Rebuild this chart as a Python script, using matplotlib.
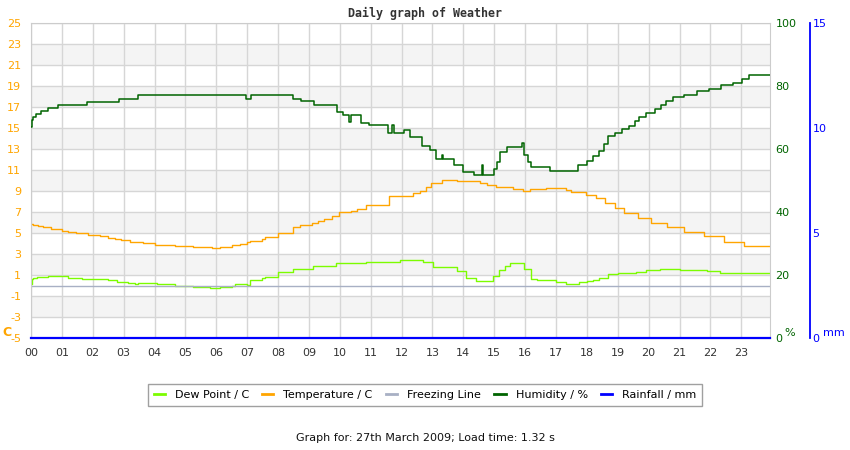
import matplotlib.pyplot as plt
import numpy as np

plt.rcParams['axes.unicode_minus'] = False

# hodiny a hodnoty (schodovite rady)
hum_hours = [0.00, 0.03, 0.06, 0.16, 0.32, 0.55, 0.88, 1.82, 2.86, 3.47, 6.95, 7.11,
             8.50, 8.73, 9.16, 9.90, 10.10, 10.30, 10.36, 10.70, 10.95, 11.55, 11.70, 11.75,
             12.07, 12.28, 12.66, 12.93, 13.10, 13.30, 13.35, 13.70, 14.00, 14.35, 14.60,
             14.65, 15.00, 15.10, 15.20, 15.40, 15.90, 15.95, 16.10, 16.20, 16.80, 17.70,
             18.00, 18.20, 18.40, 18.55, 18.70, 18.90, 19.15, 19.35, 19.55, 19.70, 19.90,
             20.20, 20.40, 20.55, 20.80, 21.15, 21.55, 21.95, 22.35, 22.73, 23.03, 23.24,
             23.93]
hum_pct = [67.0, 69.2, 70.1, 71.0, 72.0, 72.9, 73.9, 74.8, 76.0, 77.0, 76.0, 77.0,
           76.0, 75.1, 74.0, 71.9, 70.8, 68.5, 70.8, 68.2, 67.6, 65.0, 67.5, 65.0,
           66.0, 63.9, 61.0, 59.7, 56.7, 58.0, 56.7, 54.9, 52.8, 51.7, 55.0,
           51.7, 53.5, 56.0, 59.1, 60.7, 62.0, 58.0, 56.0, 54.4, 53.1, 54.9,
           56.2, 57.8, 59.4, 61.5, 64.2, 65.2, 66.3, 67.3, 68.9, 70.3, 71.4,
           72.6, 73.9, 75.2, 76.4, 77.3, 78.3, 79.2, 80.2, 81.1, 82.2, 83.4,
           83.4]

temp_hours = [0.00, 0.06, 0.22, 0.38, 0.65, 0.99, 1.20, 1.47, 1.85, 2.23, 2.50, 2.72,
              2.93, 3.20, 3.63, 4.01, 4.66, 5.25, 5.85, 6.12, 6.50, 6.76, 6.98, 7.10,
              7.47, 7.58, 8.00, 8.48, 8.71, 9.10, 9.30, 9.49, 9.76, 9.97, 10.35, 10.57,
              10.86, 11.00, 11.60, 12.37, 12.59, 12.80, 12.96, 13.30, 13.78, 14.54, 14.75,
              15.07, 15.61, 15.93, 16.15, 16.68, 17.33, 17.50, 17.98, 18.30, 18.60, 18.90,
              19.20, 19.65, 20.08, 20.60, 21.15, 21.80, 22.45, 23.10, 23.93]
temp_c = [5.9, 5.75, 5.7, 5.55, 5.4, 5.2, 5.1, 5.0, 4.8, 4.67, 4.5, 4.4,
          4.3, 4.15, 4.05, 3.9, 3.8, 3.7, 3.6, 3.7, 3.9, 4.0, 4.1, 4.2,
          4.4, 4.6, 5.0, 5.55, 5.75, 6.0, 6.17, 6.33, 6.6, 6.97, 7.1, 7.28,
          7.66, 7.7, 8.5, 8.8, 9.03, 9.35, 9.76, 10.08, 10.0, 9.8, 9.57,
          9.35, 9.2, 8.97, 9.2, 9.3, 9.1, 8.93, 8.6, 8.3, 7.85, 7.35,
          6.9, 6.45, 6.0, 5.56, 5.1, 4.68, 4.16, 3.78, 3.78]

dew_hours = [0.00, 0.03, 0.08, 0.18, 0.56, 0.88, 1.20, 1.64, 2.23, 2.50, 2.77, 3.15,
             3.37, 3.48, 4.07, 4.66, 5.25, 5.80, 6.12, 6.50, 6.60, 6.98, 7.09, 7.47,
             7.58, 8.00, 8.48, 9.14, 9.89, 10.86, 11.94, 12.70, 13.02, 13.78, 14.10,
             14.42, 14.96, 15.17, 15.35, 15.50, 15.95, 16.20, 16.40, 17.00, 17.33, 17.76,
             18.00, 18.20, 18.40, 18.70, 19.00, 19.60, 19.90, 20.36, 21.00, 21.90, 22.30,
             23.93]
dew_c = [0.1, 0.6, 0.76, 0.85, 0.95, 0.9, 0.76, 0.66, 0.6, 0.5, 0.38, 0.28,
         0.15, 0.28, 0.15, 0.0, -0.1, -0.2, -0.1, 0.0, 0.1, 0.05, 0.5, 0.7,
         0.85, 1.25, 1.6, 1.87, 2.13, 2.2, 2.45, 2.2, 1.8, 1.4, 0.76,
         0.44, 0.9, 1.5, 1.87, 2.13, 1.56, 0.6, 0.5, 0.3, 0.15, 0.3,
         0.4, 0.5, 0.76, 1.05, 1.15, 1.3, 1.5, 1.6, 1.5, 1.4, 1.15,
         1.15]

freeze_hours = [0.0, 23.93]
freeze_c = [0.0, 0.0]

rain_hours = [0.0, 23.93]
rain_mm = [0.0, 0.0]

hour_labels = ['%02d' % h for h in range(24)]

fig = plt.figure(figsize=(8.5, 4.5), dpi=100)
ax = fig.add_axes([31/850, 112/450, 739/850, 315/450])

# pruhy pozadi
for lo in range(-3, 25, 4):
    ax.axhspan(lo, lo + 2, color='#f4f4f4', zorder=0, lw=0)

ax.set_xlim(0, 23.93)
ax.set_ylim(-5, 25)
ax.set_xticks(range(24))
ax.set_xticklabels(hour_labels)
ax.set_yticks(range(-5, 26, 2))
ax.grid(color='#d6d6d6', linewidth=1, zorder=1)
ax.set_axisbelow(True)
ax.tick_params(axis='x', length=0, pad=7, labelsize=8, labelcolor='#333333')
ax.tick_params(axis='y', length=0, pad=7, labelsize=8, labelcolor='#ffa500')
for s in ax.spines.values():
    s.set_color('#cccccc')

l1, = ax.plot(dew_hours, dew_c, drawstyle='steps-post', color='#7cfc00', lw=1.0, label='Dew Point / C')
l2, = ax.plot(temp_hours, temp_c, drawstyle='steps-post', color='#ffa500', lw=1.0, label='Temperature / C')
l3, = ax.plot(freeze_hours, freeze_c, color='#a8b0c4', lw=1.0, label='Freezing Line')

axh = ax.twinx()
axh.set_ylim(0, 100)
axh.set_yticks(range(0, 101, 20))
axh.tick_params(axis='y', length=0, pad=4, labelsize=8, labelcolor='#006400')
for s in axh.spines.values():
    s.set_visible(False)
l4, = axh.plot(hum_hours, hum_pct, drawstyle='steps-post', color='#006400', lw=1.1, label='Humidity / %')

axr = ax.twinx()
axr.set_ylim(0, 15)
axr.set_yticks([0, 5, 10, 15])
for k in ['top', 'bottom', 'left']:
    axr.spines[k].set_visible(False)
axr.spines['right'].set_position(('axes', 1.054))
axr.spines['right'].set_color('#0000ff')
axr.spines['right'].set_linewidth(1.3)
axr.tick_params(axis='y', length=0, pad=2, labelsize=8, labelcolor='#0000ff')
l5, = axr.plot(rain_hours, rain_mm, color='#0000ff', lw=1.6, label='Rainfall / mm', clip_on=False)

fig.text(2/850, 1 - 332/450, 'C', color='#ffa500', fontsize=9, fontweight='bold', va='center')
fig.text(784/850, 1 - 333/450, '%', color='#006400', fontsize=8, va='center')
fig.text(823/850, 1 - 333/450, 'mm', color='#0000ff', fontsize=8, va='center')

fig.text(0.5, 1 - 13/450, 'Daily graph of Weather', family='DejaVu Sans Mono',
         fontweight='bold', fontsize=8.4, color='#333333', ha='center', va='center')

leg = fig.legend(handles=[l1, l2, l3, l4, l5], loc='center', bbox_to_anchor=(425/850, 1 - 395/450),
                 ncol=5, fontsize=8, frameon=True, fancybox=False, handlelength=1.0,
                 handletextpad=0.9, columnspacing=1.2, borderpad=0.5)
leg.get_frame().set_edgecolor('#888888')
leg.get_frame().set_linewidth(1)
for h in leg.legend_handles:
    h.set_linewidth(2)

fig.text(0.5, 1 - 438/450, 'Graph for: 27th March 2009; Load time: 1.32 s',
         fontsize=8, color='#111111', ha='center', va='center')

fig.savefig('out.png', dpi=100)
